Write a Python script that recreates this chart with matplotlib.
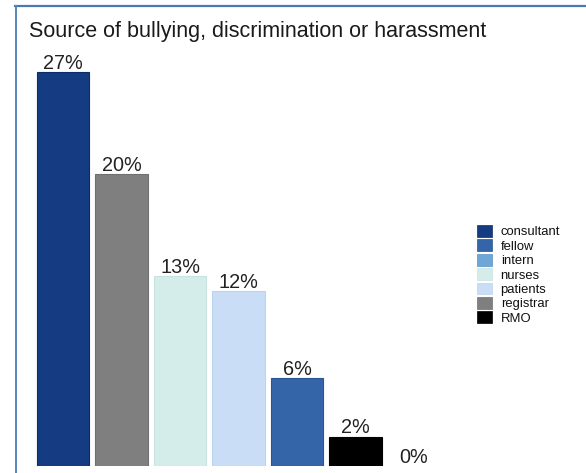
import matplotlib
matplotlib.use("Agg")
import matplotlib.pyplot as plt
from matplotlib.lines import Line2D
from matplotlib.patches import Patch

plt.rcParams['font.family'] = ['Liberation Sans', 'DejaVu Sans']

title = "Source of bullying, discrimination or harassment"

# Bars in drawing order
bar_groups = ["consultant", "registrar", "nurses", "patients", "fellow", "RMO", "intern"]
bar_values = [27, 20, 13, 12, 6, 2, 0]

# Legend order and colours per group
legend_groups = ["consultant", "fellow", "intern", "nurses", "patients", "registrar", "RMO"]
group_colors = {
    "consultant": "#153c82",
    "fellow": "#3565a9",
    "intern": "#6fa6d8",
    "nurses": "#d4ecea",
    "patients": "#c9ddf7",
    "registrar": "#7f7f7f",
    "RMO": "#000000",
}
group_edges = {
    "consultant": "#0e2d66",
    "fellow": "#2a5590",
    "intern": "#5a90c2",
    "nurses": "#c8e2e0",
    "patients": "#bcd2ee",
    "registrar": "#6f6f6f",
    "RMO": "#000000",
}

W, H = 586, 473
fig = plt.figure(figsize=(W / 100, H / 100), dpi=100)

# axes placed in pixel terms: bar centre i sits at 63 + 58.5*i px, zero at 466 px
px_per_unit_x = 58.5
px_per_unit_y = (466 - 72) / 27
ax_left_px, ax_right_px = 30, 460
ax_bottom_px, ax_top_px = 466, 55
ax = fig.add_axes([ax_left_px / W, 1 - ax_bottom_px / H,
                   (ax_right_px - ax_left_px) / W, (ax_bottom_px - ax_top_px) / H])
ax.set_xlim((ax_left_px - 63) / px_per_unit_x, (ax_right_px - 63) / px_per_unit_x)
ax.set_ylim(0, (ax_bottom_px - ax_top_px) / px_per_unit_y)

xs = list(range(len(bar_groups)))
ax.bar(xs, bar_values, width=0.89,
       color=[group_colors[g] for g in bar_groups],
       edgecolor=[group_edges[g] for g in bar_groups],
       linewidth=[0.8 if v > 0 else 0 for v in bar_values])

for x, v in zip(xs, bar_values):
    ax.annotate(f"{v}%", (x, v), xytext=(0, 2.4), textcoords="offset points",
                ha="center", va="baseline", fontsize=14.3, color="#222222")

ax.set_axis_off()

# title
fig.text(29 / W, 1 - 37 / H, title, fontsize=15.5, color="#1a1a1a",
         ha="left", va="baseline")

# legend
handles = [Patch(facecolor=group_colors[g], edgecolor=group_edges[g], linewidth=0.5)
           for g in legend_groups]
leg = fig.legend(handles, legend_groups, loc="upper left",
                 bbox_to_anchor=(468 / W, 1 - 216 / H), frameon=False,
                 fontsize=9.4, handlelength=1.12, handleheight=1.0,
                 handletextpad=0.68, labelspacing=0.08, borderpad=0.2)
for t in leg.get_texts():
    t.set_color("#111111")

# thin blue frame along the top and left
fig.add_artist(Line2D([15 / W, 1.0], [1 - 6.5 / H, 1 - 6.5 / H],
                      transform=fig.transFigure, color="#4a78b0", linewidth=1.6))
fig.add_artist(Line2D([16 / W, 16 / W], [0, 1 - 6.5 / H],
                      transform=fig.transFigure, color="#5a86bb", linewidth=1.4))

fig.savefig("out.png", dpi=100)
